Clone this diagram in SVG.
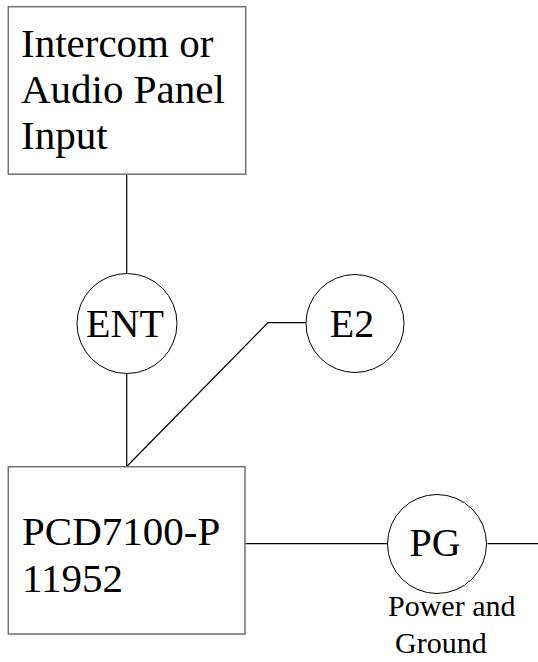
<svg xmlns="http://www.w3.org/2000/svg" width="538" height="662" viewBox="0 0 538 662">
<style>
.box{fill:#fff;stroke:#707070;stroke-width:1.5}
.circ{fill:#fff;stroke:#000;stroke-width:1}
.wire{fill:none;stroke:#000;stroke-width:1.2}
.big{font-size:41px}
.lbl{font-size:40px;text-anchor:middle}
.small{font-size:30px}
</style>
<rect width="538" height="662" fill="#fff"/>
<g id="connectors">
<line class="wire" x1="126.7" y1="174.5" x2="126.7" y2="274"/>
<line class="wire" x1="126.7" y1="373" x2="126.7" y2="466.5"/>
<polyline class="wire" points="306,322.7 268,322.7 126.7,466.5"/>
<line class="wire" x1="243" y1="543.7" x2="387" y2="543.7"/>
<line class="wire" x1="487.5" y1="543.7" x2="538" y2="543.7"/>
</g>
<g font-family="'Liberation Serif', 'Times New Roman', serif" fill="#000">
<g id="intercom">
<rect class="box" x="8.3" y="6.7" width="237.4" height="167.5"/>
<text class="big" x="21" y="57">Intercom or</text>
<text class="big" x="21" y="103">Audio Panel</text>
<text class="big" x="21" y="149">Input</text>
</g>
<g id="ent">
<circle class="circ" cx="127" cy="323.5" r="50"/>
<text class="lbl" x="125" y="337">ENT</text>
</g>
<g id="e2">
<circle class="circ" cx="355" cy="323.5" r="49"/>
<text class="lbl" x="352" y="337">E2</text>
</g>
<g id="pcd">
<rect class="box" x="8.3" y="466.7" width="236.7" height="167.3"/>
<text class="big" x="22" y="545">PCD7100-P</text>
<text class="big" x="22" y="591.5">11952</text>
</g>
<g id="pg">
<circle class="circ" cx="437" cy="544" r="49.5"/>
<text class="lbl" x="435" y="555.5">PG</text>
<text class="small" x="388" y="616">Power and</text>
<text class="small" x="395" y="653">Ground</text>
</g>
</g>
</svg>
